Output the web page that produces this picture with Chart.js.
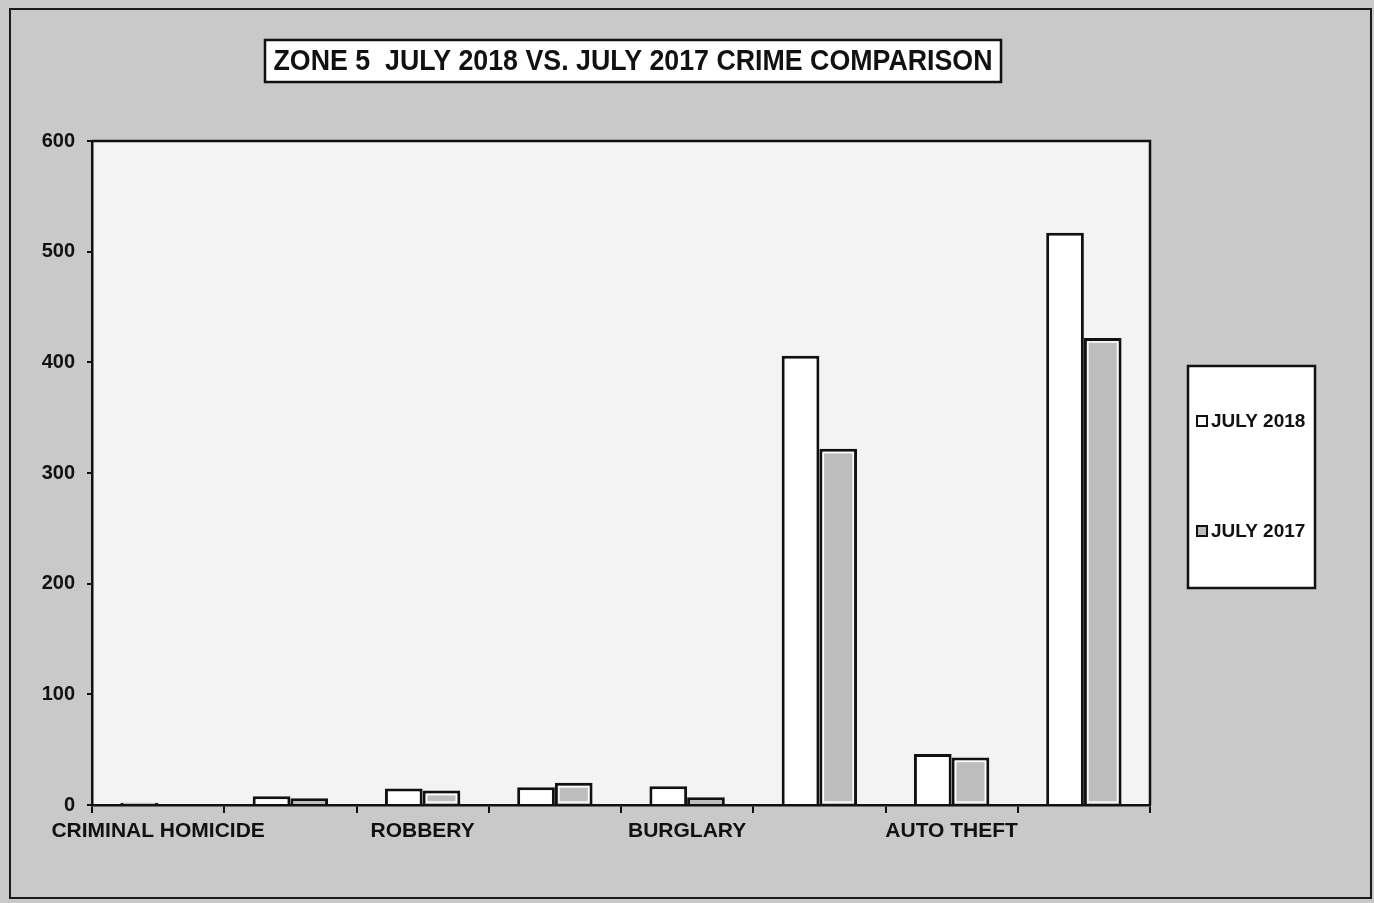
<!DOCTYPE html>
<html>
<head>
<meta charset="utf-8">
<script src="https://cdn.jsdelivr.net/npm/chart.js@4.4.1/dist/chart.umd.min.js"></script>
<style>
  html, body { margin: 0; padding: 0; background: #c9c9c9; }
  canvas { display: block; }
</style>
</head>
<body>
<canvas id="c" width="1374" height="903"></canvas>
<script>
const chartTitle = "ZONE 5  JULY 2018 VS. JULY 2017 CRIME COMPARISON";
const categories = ["CRIMINAL HOMICIDE", "", "ROBBERY", "", "BURGLARY", "", "AUTO THEFT", ""];
const seriesNames = ["JULY 2018", "JULY 2017"];
const july2018 = [2, 8, 15, 16, 17, 406, 46, 517];
const july2017 = [0, 6, 13, 20, 7, 322, 43, 422];
const yTicks = [0, 100, 200, 300, 400, 500, 600];

const FONT = "'Liberation Sans', Arial, sans-serif";
const fills = ["#ffffff", "#bdbdbd"];

const decor = {
  id: 'decor',
  beforeDraw(chart) {
    const ctx = chart.ctx;
    const a = chart.chartArea;
    ctx.save();
    ctx.fillStyle = "#c9c9c9";
    ctx.fillRect(0, 0, chart.width, chart.height);
    ctx.strokeStyle = "#1a1a1a";
    ctx.lineWidth = 2;
    ctx.strokeRect(10, 9, 1361, 889);
    ctx.fillStyle = "#f3f3f3";
    ctx.fillRect(a.left, a.top, a.right - a.left, a.bottom - a.top);
    // title box
    ctx.fillStyle = "#ffffff";
    ctx.fillRect(265, 40, 736, 42);
    ctx.lineWidth = 2.5;
    ctx.strokeStyle = "#111";
    ctx.strokeRect(265, 40, 736, 42);
    ctx.font = "bold 29px " + FONT;
    const w = ctx.measureText(chartTitle).width;
    const sx = 719 / w;
    ctx.fillStyle = "#111";
    ctx.textAlign = "center";
    ctx.textBaseline = "middle";
    ctx.save();
    ctx.translate(633, 62);
    ctx.scale(sx, 1);
    ctx.fillText(chartTitle, 0, 0);
    ctx.restore();
    // legend box
    ctx.fillStyle = "#ffffff";
    ctx.fillRect(1188, 366, 127, 222);
    ctx.strokeStyle = "#111";
    ctx.lineWidth = 2.5;
    ctx.strokeRect(1188, 366, 127, 222);
    const ys = [421, 531];
    ctx.font = "bold 19px " + FONT;
    ctx.textAlign = "left";
    seriesNames.forEach((n, i) => {
      ctx.fillStyle = fills[i];
      ctx.fillRect(1197, ys[i] - 5, 10, 10);
      ctx.lineWidth = 2;
      ctx.strokeStyle = "#111";
      ctx.strokeRect(1197, ys[i] - 5, 10, 10);
      ctx.fillStyle = "#111";
      ctx.fillText(n, 1211, ys[i] + 1);
    });
    ctx.restore();
  },
  afterDatasetsDraw(chart) {
    const ctx = chart.ctx;
    const a = chart.chartArea;
    ctx.save();
    const meta = chart.getDatasetMeta(1);
    ctx.strokeStyle = "#ffffff";
    ctx.lineWidth = 1.5;
    meta.data.forEach(el => {
      const p = el.getProps(['x', 'y', 'base', 'width'], true);
      const h = p.base - p.y;
      if (h > 10) {
        ctx.strokeRect(p.x - p.width / 2 + 4, p.y + 4, p.width - 8, h - 6);
      }
    });
    ctx.strokeStyle = "#111";
    ctx.lineWidth = 2.5;
    ctx.beginPath();
    ctx.moveTo(a.left, a.top);
    ctx.lineTo(a.right, a.top);
    ctx.lineTo(a.right, a.bottom);
    ctx.stroke();
    ctx.restore();
  }
};

new Chart(document.getElementById('c'), {
  type: 'bar',
  data: {
    labels: categories,
    datasets: [
      { label: seriesNames[0], data: july2018, backgroundColor: fills[0], borderColor: "#111", borderWidth: 3, categoryPercentage: 0.57, barPercentage: 1.0 },
      { label: seriesNames[1], data: july2017, backgroundColor: fills[1], borderColor: "#111", borderWidth: 3, categoryPercentage: 0.57, barPercentage: 1.0 }
    ]
  },
  options: {
    responsive: false,
    animation: false,
    devicePixelRatio: 1,
    layout: { padding: { top: 141, right: 224, left: 0, bottom: 0 } },
    plugins: {
      legend: { display: false },
      title: { display: false },
      tooltip: { enabled: false }
    },
    scales: {
      x: {
        afterFit(s) { s.height = 98; },
        grid: { display: true, drawOnChartArea: false, drawTicks: true, tickLength: 8, color: "#111", lineWidth: 2, offset: true },
        border: { display: true, color: "#111", width: 2.5 },
        ticks: { autoSkip: false, maxRotation: 0, minRotation: 0, padding: 6, color: "#111", font: { family: FONT, size: 21, weight: 'bold' } }
      },
      y: {
        min: 0, max: 600,
        afterFit(s) { s.width = 92; },
        afterBuildTicks(s) { s.ticks = yTicks.map(v => ({ value: v })); },
        grid: { display: true, drawOnChartArea: false, drawTicks: true, tickLength: 5, color: "#111", lineWidth: 2 },
        border: { display: true, color: "#111", width: 2.5 },
        ticks: { padding: 12, color: "#111", font: { family: FONT, size: 20, weight: 'bold' } }
      }
    }
  },
  plugins: [decor]
});
</script>
</body>
</html>
